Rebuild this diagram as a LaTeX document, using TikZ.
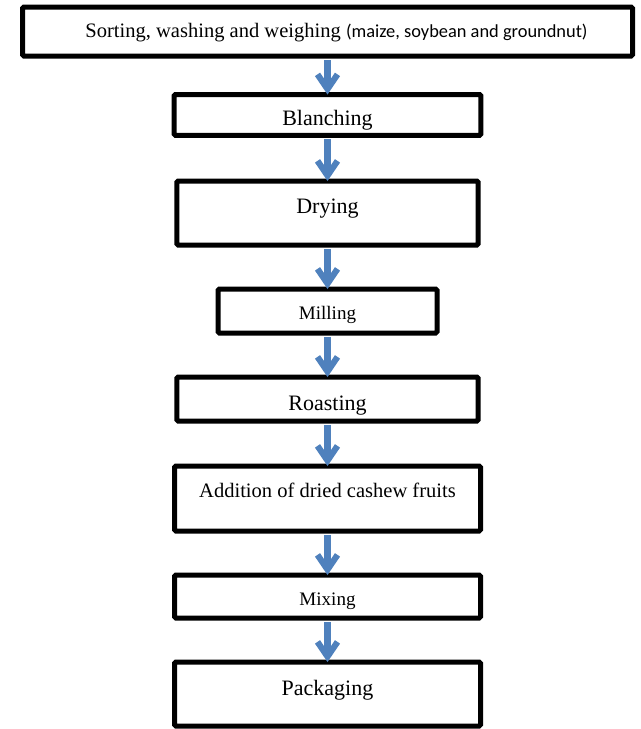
\documentclass[tikz,border=0pt]{standalone}
\usepackage{fontspec}
\setmainfont{Liberation Serif}
\newfontfamily\calib{Carlito}
\usetikzlibrary{arrows.meta}
\definecolor{flowblue}{RGB}{79,129,189}

\begin{document}
\begin{tikzpicture}[x=0.75pt, y=-0.75pt,
    stepbox/.style={draw, line width=3.75pt, rounded corners=1pt, inner ysep=0pt,
      inner xsep=2pt, outer sep=0pt, anchor=north, fill=white},
    big/.style={font=\fontsize{16.5}{19}\selectfont},
    mid/.style={font=\fontsize{15.4}{18}\selectfont},
    small/.style={font=\fontsize{14.3}{17}\selectfont},
    flow/.style={draw=flowblue, line width=4.6pt, shorten <=3pt,
      -{Straight Barb[length=11pt, width=15pt]}}]
  \useasboundingbox (0,0) rectangle (640,729);

  % boxes, top edge given
  \node[stepbox, mid, minimum width=457.5pt, text height=22.5pt, text depth=14.25pt] (sort) at (327.5,7)
    {\hspace*{13.5pt}Sorting, washing and weighing {\calib\fontsize{13.8}{16}\selectfont (maize, soybean and groundnut)}};
  \node[stepbox, big, minimum width=230pt, text height=23.6pt, text depth=7.1pt] (blanch) at (327.5,94.5) {Blanching};
  \node[stepbox, big, minimum width=226pt, text height=24.2pt, text depth=23.8pt] (dry) at (327.5,181) {Drying};
  \node[stepbox, small, minimum width=164.25pt, text height=22.5pt, text depth=10.5pt] (mill) at (327.5,289) {Milling};
  \node[stepbox, big, minimum width=226pt, text height=24.75pt, text depth=8.25pt] (roast) at (327.5,377) {Roasting};
  \node[stepbox, mid, minimum width=229.5pt, text height=23.25pt, text depth=25.5pt] (cashew) at (327.5,466) {Addition of dried cashew fruits};
  \node[stepbox, small, minimum width=229.5pt, text height=22.5pt, text depth=9.75pt] (mix) at (327.5,575) {Mixing};
  \node[stepbox, big, minimum width=229.5pt, text height=24.75pt, text depth=23.25pt] (pack) at (327.5,662) {Packaging};

  % arrows
  \draw[flow] (sort.south) -- (blanch.north);
  \draw[flow] (blanch.south) -- (dry.north);
  \draw[flow] (dry.south) -- (mill.north);
  \draw[flow] (mill.south) -- (roast.north);
  \draw[flow] (roast.south) -- (cashew.north);
  \draw[flow] (cashew.south) -- (mix.north);
  \draw[flow] (mix.south) -- (pack.north);
\end{tikzpicture}
\end{document}
